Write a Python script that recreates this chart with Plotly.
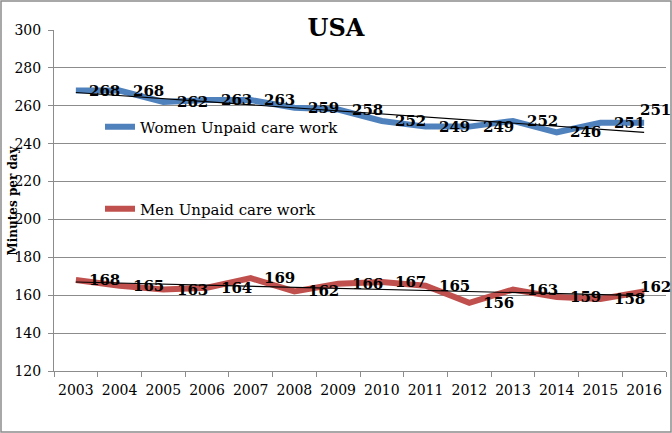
import numpy as np
import plotly.graph_objects as go

years = ["2003", "2004", "2005", "2006", "2007", "2008", "2009",
         "2010", "2011", "2012", "2013", "2014", "2015", "2016"]
women = [268, 268, 262, 263, 263, 259, 258, 252, 249, 249, 252, 246, 251, 251]
men = [168, 165, 163, 164, 169, 162, 166, 167, 165, 156, 163, 159, 158, 162]

W, H = 672, 433
L, R, T, B = 54, 6, 30, 62
pw, ph = W - L - R, H - T - B

serif = "DejaVu Serif"
blue = "#4F81BD"
red = "#C0504D"
grid = "#8C8C8C"

idx = np.arange(len(years))
wfit = np.polyval(np.polyfit(idx, women, 1), idx)
mfit = np.polyval(np.polyfit(idx, men, 1), idx)

fig = go.Figure()
fig.add_trace(go.Scatter(x=years, y=women, mode="lines", name="Women Unpaid care work",
                         line=dict(color=blue, width=6), legend="legend"))
fig.add_trace(go.Scatter(x=years, y=men, mode="lines", name="Men Unpaid care work",
                         line=dict(color=red, width=6), legend="legend2"))
fig.add_trace(go.Scatter(x=years, y=wfit, mode="lines", showlegend=False,
                         line=dict(color="black", width=1.2)))
fig.add_trace(go.Scatter(x=years, y=mfit, mode="lines", showlegend=False,
                         line=dict(color="black", width=1.2)))

annots = []
for series, last_yshift in ((women, 13), (men, 4)):
    n = len(series)
    for i, v in enumerate(series):
        last = i == n - 1
        annots.append(dict(x=i, y=v, xref="x", yref="y", text=str(v), showarrow=False,
                           xanchor="center", yanchor="middle",
                           xshift=11 if last else 29, yshift=last_yshift if last else 0,
                           font=dict(family=serif, size=15, color="black", weight="bold")))

annots.append(dict(x=(12 - L) / pw, y=0.5, xref="paper", yref="paper", text="Minutes per day",
                   textangle=-90, showarrow=False, xanchor="center", yanchor="middle",
                   font=dict(family=serif, size=12, color="black", weight="bold")))

fig.update_layout(
    width=W, height=H,
    margin=dict(l=L, r=R, t=T, b=B, autoexpand=False),
    paper_bgcolor="white", plot_bgcolor="white",
    title=dict(text="USA", x=0.5, xref="container", xanchor="center",
               y=1 - 28 / H, yref="container", yanchor="middle",
               font=dict(family=serif, size=24, color="black", weight="bold")),
    xaxis=dict(type="category", tickson="boundaries", ticks="outside", ticklen=5,
               tickcolor=grid, showline=True, linecolor=grid, linewidth=1,
               showgrid=False, tickfont=dict(family=serif, size=14, color="black"),
               ticklabelstandoff=6, tickangle=0,
               range=[-0.5, len(years) - 0.5], automargin=False),
    yaxis=dict(range=[120, 300], dtick=20, ticks="outside", ticklen=5, tickcolor=grid,
               showline=True, linecolor=grid, linewidth=1, showgrid=True,
               gridcolor=grid, gridwidth=1, zeroline=False, automargin=False,
               ticklabelstandoff=4,
               tickfont=dict(family=serif, size=14, color="black")),
    legend=dict(x=(100 - L) / pw, y=1 - (127 - T) / ph, xanchor="left", yanchor="middle",
                bgcolor="rgba(0,0,0,0)", font=dict(family=serif, size=15, color="black")),
    legend2=dict(x=(100 - L) / pw, y=1 - (209 - T) / ph, xanchor="left", yanchor="middle",
                 bgcolor="rgba(0,0,0,0)", font=dict(family=serif, size=15, color="black")),
    annotations=annots,
    shapes=[dict(type="rect", xref="paper", yref="paper",
                 x0=(1 - L) / pw, x1=(W - 1 - L) / pw,
                 y0=-(B - 1) / ph, y1=1 + (T - 1) / ph,
                 line=dict(color="#8C8C8C", width=1.5), layer="below")],
)

fig.write_html("out.html", config={"displayModeBar": False},
               post_script="document.body.style.margin='0';")
